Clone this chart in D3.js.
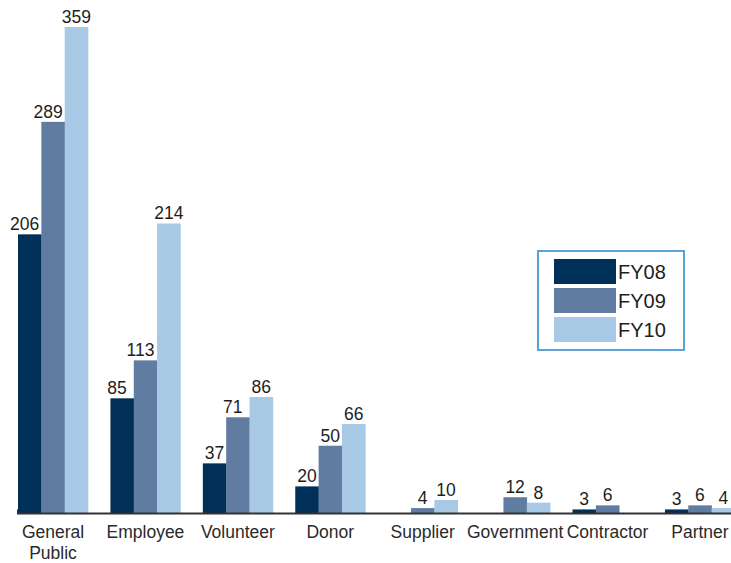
<!DOCTYPE html>
<html>
<head>
<meta charset="utf-8">
<script src="https://cdn.jsdelivr.net/npm/d3@7"></script>
<style>
  body { margin: 0; background: #fff; }
  svg { display: block; font-family: "Liberation Sans", Arial, sans-serif; }
</style>
</head>
<body>
<div id="chart"></div>
<script>
const categories = ["General Public", "Employee", "Volunteer", "Donor", "Supplier", "Government", "Contractor", "Partner"];
const seriesNames = ["FY08", "FY09", "FY10"];
const fy08 = [206, 85, 37, 20, null, null, 3, 3];
const fy09 = [289, 113, 71, 50, 4, 12, 6, 6];
const fy10 = [359, 214, 86, 66, 10, 8, null, 4];
const colors = ["#002f57", "#607ca0", "#a7c9e6"];

var width = 731,
    height = 563;

var svg = d3.select("#chart").append("svg")
    .attr("width", width)
    .attr("height", height);

const series = [fy08, fy09, fy10];
const rows = categories.map((c, i) => ({ cat: c, vals: series.map((s, j) => ({ key: seriesNames[j], v: s[i] })) }));

const x0 = d3.scaleBand()
    .domain(categories)
    .range([18, 735])
    .paddingInner(0.242)
    .paddingOuter(0);

const x1 = d3.scaleBand()
    .domain(seriesNames)
    .range([0, x0.bandwidth()]);

const y = d3.scaleLinear()
    .domain([0, 359])
    .range([513.5, 27]);

const color = d3.scaleOrdinal().domain(seriesNames).range(colors);

const group = svg.append("g")
  .selectAll("g")
  .data(rows)
  .join("g")
    .attr("transform", d => `translate(${x0(d.cat)},0)`);

group.selectAll("rect")
  .data(d => d.vals.filter(v => v.v != null))
  .join("rect")
    .attr("x", d => x1(d.key))
    .attr("y", d => y(d.v))
    .attr("width", x1.bandwidth() + 0.3)
    .attr("height", d => y(0) - y(d.v))
    .attr("fill", d => color(d.key));

// value labels, nudged left a little when the next bar is taller
group.selectAll("text")
  .data(d => d.vals.map((v, i, a) => ({ ...v, next: a[i + 1] ? a[i + 1].v : null })).filter(v => v.v != null))
  .join("text")
    .attr("x", d => x1(d.key) + x1.bandwidth() / 2 - (d.next != null && d.next > d.v && d.v > 50 ? 5 : 0))
    .attr("y", d => y(d.v) - 4)
    .attr("text-anchor", "middle")
    .attr("font-size", 17.5)
    .attr("fill", "#1e1e1e")
    .text(d => d.v);

// baseline
svg.append("line")
    .attr("x1", 17).attr("x2", width)
    .attr("y1", y(0)).attr("y2", y(0))
    .attr("stroke", "#333")
    .attr("stroke-width", 2);
svg.append("line")
    .attr("x1", 17.5).attr("x2", 17.5)
    .attr("y1", y(0) - 4).attr("y2", y(0))
    .attr("stroke", "#333")
    .attr("stroke-width", 1);

// category labels
const catLabels = svg.append("g")
  .selectAll("text")
  .data(categories)
  .join("text")
    .attr("x", d => x0(d) + x0.bandwidth() / 2)
    .attr("y", 538)
    .attr("text-anchor", "middle")
    .attr("font-size", 17.5)
    .attr("fill", "#2a2a2a");

catLabels.each(function(d) {
  const t = d3.select(this);
  const parts = d === "General Public" ? ["General", "Public"] : [d];
  parts.forEach((p, i) => {
    t.append("tspan")
      .attr("x", x0(d) + x0.bandwidth() / 2)
      .attr("dy", i === 0 ? 0 : 21)
      .text(p);
  });
});

// legend
const legend = svg.append("g").attr("transform", "translate(538,251)");
legend.append("rect")
    .attr("width", 146)
    .attr("height", 99)
    .attr("fill", "#fff")
    .attr("stroke", "#5aa2d8")
    .attr("stroke-width", 2);

const li = legend.selectAll("g.item")
  .data(seriesNames)
  .join("g")
    .attr("class", "item")
    .attr("transform", (d, i) => `translate(16,${8 + i * 29})`);

li.append("rect")
    .attr("width", 62)
    .attr("height", 25)
    .attr("fill", d => color(d));

li.append("text")
    .attr("x", 64)
    .attr("y", 20)
    .attr("font-size", 20)
    .attr("fill", "#1e1e1e")
    .text(d => d);
</script>
</body>
</html>
